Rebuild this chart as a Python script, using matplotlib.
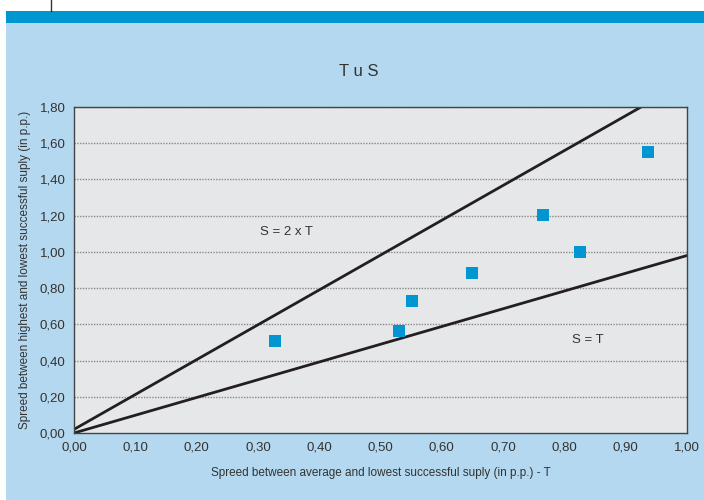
import matplotlib
matplotlib.use("Agg")
import matplotlib.pyplot as plt
from matplotlib.patches import Rectangle
from matplotlib.lines import Line2D

plt.rcParams['font.family'] = ['Liberation Sans Narrow', 'Liberation Sans', 'DejaVu Sans']

# data
spread_t = [0.328, 0.530, 0.551, 0.649, 0.765, 0.825, 0.936]
spread_s = [0.508, 0.563, 0.729, 0.883, 1.204, 0.999, 1.552]

line_2t_x = [0.0, 0.925]
line_2t_y = [0.02, 1.80]
line_t_x = [0.0, 1.0]
line_t_y = [0.0, 0.98]

xticks = [i / 10 for i in range(11)]
yticks = [i / 5 for i in range(10)]

def comma(v):
    return f"{v:.2f}".replace('.', ',')

fig = plt.figure(figsize=(7.04, 5.0), dpi=100)
fig.patch.set_facecolor('white')

# background panels
fig.add_artist(Rectangle((6 / 704, 0), 698 / 704, 477 / 500, transform=fig.transFigure,
                         facecolor='#b4d8ef', edgecolor='none', zorder=0))
fig.add_artist(Rectangle((6 / 704, 477 / 500), 698 / 704, 12 / 500, transform=fig.transFigure,
                         facecolor='#0096d0', edgecolor='none', zorder=0))
fig.add_artist(Line2D([51 / 704, 51 / 704], [489 / 500, 1.0], transform=fig.transFigure,
                      color='#333333', lw=1))

ax = fig.add_axes([74 / 704, (500 - 433) / 500, 613 / 704, 326 / 500])
ax.set_facecolor('#e6e7e9')

for y in yticks[1:]:
    ax.axhline(y, color='#888888', lw=1, ls=(0, (1, 1)), zorder=1)

ax.plot(line_2t_x, line_2t_y, color='#231f20', lw=2, zorder=2)
ax.plot(line_t_x, line_t_y, color='#231f20', lw=2, zorder=2)
ax.scatter(spread_t, spread_s, marker='s', s=64, color='#0096d1', zorder=3, linewidths=0)

ax.text(0.347, 1.11, 'S = 2 x T', fontsize=9.5, color='#333333', ha='center', va='center')
ax.text(0.838, 0.515, 'S = T', fontsize=9.5, color='#333333', ha='center', va='center')

ax.set_xlim(0, 1.0)
ax.set_ylim(0, 1.8)
ax.set_xticks(xticks)
ax.set_yticks(yticks)
ax.set_xticklabels([comma(v) for v in xticks], fontsize=9.5, color='#333333')
ax.set_yticklabels([comma(v) for v in yticks], fontsize=9.5, color='#333333')
ax.tick_params(length=0, pad=6)
for sp in ax.spines.values():
    sp.set_color('#444444')
    sp.set_linewidth(1)

ax.set_xlabel('Spreed between average and lowest successful suply (in p.p.) - T',
              fontsize=8.5, color='#333333', labelpad=10)
ax.set_ylabel('Spreed between highest and lowest successful suply (in p.p.)',
              fontsize=8.5, color='#333333', labelpad=6)

fig.text(359 / 704, (500 - 72) / 500, 'T u S', fontsize=12, color='#333333', ha='center', va='center')

fig.savefig('out.png', dpi=100)
